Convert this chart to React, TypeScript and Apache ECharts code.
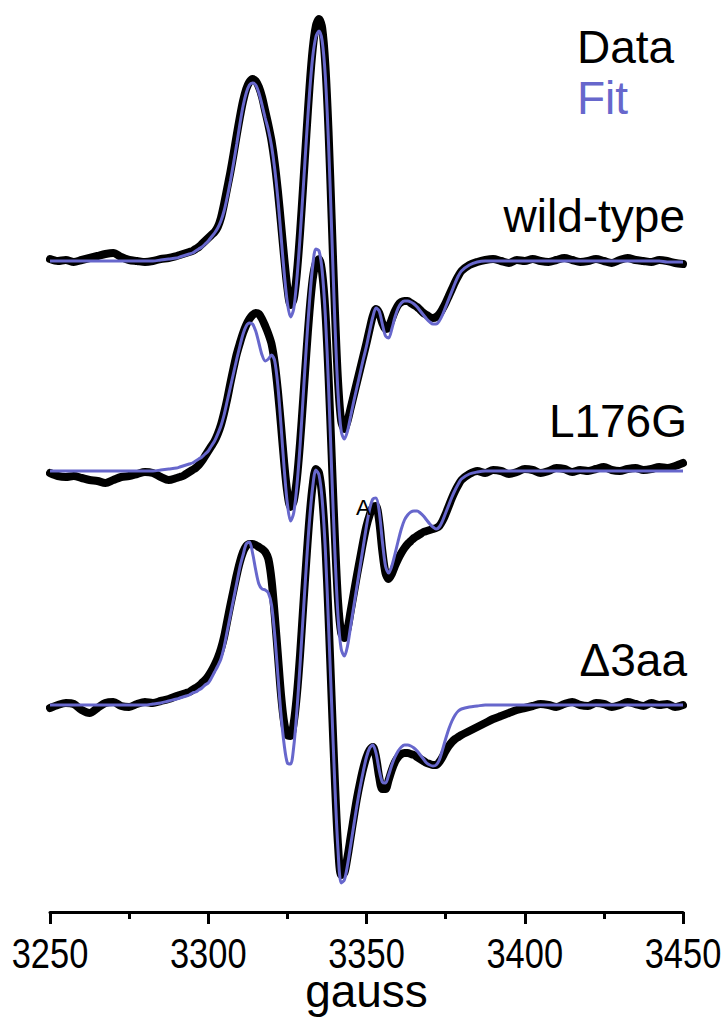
import React, { useEffect, useRef } from "react";
import * as echarts from "echarts";

// ---- axis ----
const AXIS_MIN = 3250;
const AXIS_MAX = 3450;
const TICK_STEP = 50;
const TICK_LABELS = [3250, 3300, 3350, 3400, 3450];

// field grid (gauss): coarse on the baselines, 1 G across the resonance
const range = (a: number, b: number, s: number) => {
  const r: number[] = [];
  for (let v = a; v <= b + 1e-9; v += s) r.push(Math.round(v * 10) / 10);
  return r;
};
const FIELD = [...range(3250, 3290, 2.5), ...range(3291, 3380, 1), ...range(3382.5, 3450, 2.5)];

// ---- spectra (amplitude, arbitrary units) ----
// wild-type
const WT_DATA = [
  2, 0, 1, -1, 1, 3, 5, 7, 8, 4, 1, 0, -1, 0, 2, 3, 5,
  6, 7, 8, 9, 10, 12, 14, 17, 20, 23,
  26, 29, 34, 43, 57, 73, 89, 107, 126, 144,
  160, 172, 179, 182, 180, 174, 164, 150, 136, 120,
  98, 70, 37, 3, -27, -44, -38, -12, 28, 76,
  126, 174, 212, 235, 242, 233, 196, 130, 42, -48,
  -120, -160, -168, -160, -147, -134, -121, -108, -95, -82,
  -68, -55, -48, -52, -62, -68, -66, -58, -50, -44,
  -41, -40, -40, -42, -44, -46, -49, -52, -54, -56,
  -57, -56, -53, -48, -42, -35, -28, -21, -15, -10,
  -4, -1, 1, 2, 0, -2, 1, 0, 2, 0, -1, 1, 3, 1, -1, 0, 2, 0, -2, 1, 3, 1, 0, -1, 1, 0, -2, -3,
];
const WT_FIT = [
  0, 0, 0, 0, 0, 0, 0, 0, 0, 0, 0, 0, 0, 0, 1, 2, 3,
  4, 5, 6, 7, 8, 10, 12, 14, 17, 20,
  24, 28, 33, 40, 50, 64, 80, 98, 117, 137,
  155, 168, 176, 178, 176, 168, 156, 143, 131, 115,
  92, 62, 25, -12, -42, -56, -48, -18, 24, 72,
  122, 168, 204, 224, 230, 220, 184, 118, 30, -60,
  -132, -170, -178, -170, -155, -140, -126, -112, -98, -85,
  -70, -56, -47, -50, -63, -75, -77, -68, -56, -47,
  -42, -40, -40, -41, -43, -46, -50, -54, -58, -61,
  -63, -63, -60, -54, -46, -38, -30, -22, -15, -10,
  -4, -1, 0, 0, 0, 0, 0, 0, 0, 0, 0, 0, 0, 0, 0, 0, 0, 0, 0, 0, 0, 0, 0, 0, 0, -1, -1, -1,
];
// L176G
const L176G_DATA = [
  -2, -5, -6, -5, -7, -9, -10, -12, -9, -6, -5, -3, -1, -2, -6, -9, -7,
  -6, -5, -3, -1, 1, 3, 6, 10, 15, 20,
  25, 30, 37, 46, 58, 72, 88, 103, 117, 128,
  138, 146, 152, 156, 158, 157, 152, 145, 137, 127,
  108, 80, 45, 8, -22, -36, -30, -8, 28, 72,
  118, 160, 192, 208, 212, 198, 160, 95, 15, -65,
  -130, -162, -167, -158, -140, -122, -104, -87, -70, -55,
  -44, -36, -35, -50, -80, -102, -108, -103, -95, -88,
  -82, -77, -73, -70, -67, -65, -63, -61, -60, -59,
  -58, -57, -55, -50, -43, -35, -27, -20, -14, -9,
  -3, 0, -2, 1, 0, -3, -1, 2, 1, -2, 0, 3, 2, -1, 1, 0, 2, 4, 1, 0, 2, 3, 1, 2, 4, 3, 5, 8,
];
const L176G_FIT = [
  0, 0, 0, 0, 0, 0, 0, 0, 0, 0, 0, 0, 0, 0, 1, 2, 3,
  4, 5, 6, 7, 8, 10, 12, 14, 17, 20,
  25, 30, 37, 45, 56, 70, 84, 98, 112, 125,
  137, 145, 148, 147, 140, 128, 116, 110, 112, 116,
  110, 85, 45, 2, -33, -50, -42, -15, 25, 75,
  125, 170, 205, 222, 220, 200, 155, 85, 0, -80,
  -145, -178, -185, -175, -155, -135, -115, -95, -75, -55,
  -38, -28, -27, -40, -70, -95, -102, -95, -83, -70,
  -58, -49, -44, -41, -40, -40, -42, -45, -49, -53,
  -56, -58, -56, -50, -42, -34, -26, -19, -13, -8,
  -3, -1, 0, 0, 0, 0, 0, 0, 0, 0, 0, 0, 0, 0, 0, 0, 0, 0, 0, 0, 0, 0, 0, 0, 0, 0, 0, 0,
];
// Δ3aa
const D3AA_DATA = [
  -3, 0, 2, 1, -5, -8, -3, 2, 3, -1, -2, 1, 3, 2, 4, 6, 9,
  10, 11, 12, 13, 15, 17, 19, 22, 25, 29,
  34, 40, 47, 56, 68, 84, 100, 115, 130, 143,
  153, 159, 161, 161, 160, 158, 156, 153, 146, 125,
  90, 50, 10, -18, -30, -31, -18, 10, 50, 98,
  145, 188, 220, 236, 232, 208, 160, 88, 5, -75,
  -140, -170, -168, -152, -132, -112, -93, -77, -63, -52,
  -45, -42, -52, -72, -84, -84, -75, -65, -57, -52,
  -49, -48, -48, -49, -50, -52, -54, -56, -58, -59,
  -60, -60, -57, -52, -46, -41, -37, -34, -32, -30,
  -26, -22, -18, -14, -11, -8, -5, -3, -1, 1, 0, -2, 1, 3, 0, -1, 2, 1, -2, 0, 3, 1, -1, 2, 0, 1, -2, 0,
];
const D3AA_FIT = [
  0, 0, 0, 0, 0, 0, 0, 0, 0, 0, 0, 0, 0, 1, 2, 4, 6,
  7, 8, 9, 10, 12, 13, 15, 17, 20, 22,
  27, 33, 39, 46, 58, 74, 90, 106, 122, 138,
  150, 161, 163, 152, 135, 121, 116, 115, 112, 100,
  70, 30, -10, -40, -58, -59, -42, -6, 40, 90,
  140, 185, 218, 235, 230, 205, 155, 80, 0, -80,
  -145, -178, -175, -160, -140, -120, -100, -82, -66, -52,
  -43, -40, -48, -65, -77, -78, -70, -60, -52, -46,
  -42, -40, -40, -41, -43, -46, -50, -54, -58, -60,
  -61, -60, -55, -45, -34, -24, -16, -10, -6, -4,
  -2, -1, 0, 0, 0, 0, 0, 0, 0, 0, 0, 0, 0, 0, 0, 0, 0, 0, 0, 0, 0, 0, 0, 0, 0, 0, 0, 0,
];

const SAMPLE_LABELS = ["wild-type", "L176G", "\u03943aa"];
const SAMPLE_OFFSETS = [651, 441, 207];
const LEGEND_LABELS = ["Data", "Fit"];

const DATA_COLOR = "#000000";
const FIT_COLOR = "#6767cc";
const FONT = "'Liberation Sans', Arial, Helvetica, sans-serif";

const toPairs = (vals: number[], off: number) => FIELD.map((g, i) => [g, off + vals[i]]);

export default function App() {
  const ref = useRef<HTMLDivElement>(null);
  useEffect(() => {
    if (!ref.current) return;
    const chart = echarts.init(ref.current, undefined, { renderer: "svg" });
    const datas = [WT_DATA, L176G_DATA, D3AA_DATA];
    const fits = [WT_FIT, L176G_FIT, D3AA_FIT];
    const series: any[] = [];
    datas.forEach((d, i) =>
      series.push({
        name: SAMPLE_LABELS[i] + " data",
        type: "line",
        data: toPairs(d, SAMPLE_OFFSETS[i]),
        showSymbol: false,
        smooth: 0.3,
        lineStyle: { color: DATA_COLOR, width: 8, cap: "round", join: "round" },
        z: 2,
      })
    );
    fits.forEach((d, i) =>
      series.push({
        name: SAMPLE_LABELS[i] + " fit",
        type: "line",
        data: toPairs(d, SAMPLE_OFFSETS[i]),
        showSymbol: false,
        smooth: 0.3,
        lineStyle: { color: FIT_COLOR, width: 3 },
        z: 3,
      })
    );
    chart.setOption({
      animation: false,
      grid: {
        left: 50,
        right: 42,
        top: 0,
        bottom: 114,
        containLabel: false,
        outerBoundsMode: "none",
      },
      xAxis: {
        type: "value",
        min: AXIS_MIN,
        max: AXIS_MAX,
        interval: TICK_STEP,
        name: "gauss",
        nameLocation: "middle",
        nameGap: 56,
        nameTextStyle: { fontSize: 46, fontFamily: FONT, color: "#000" },
        axisLine: { onZero: false, lineStyle: { color: "#000", width: 3 } },
        axisTick: { length: 12, lineStyle: { color: "#000", width: 3 } },
        minorTick: { show: true, splitNumber: 2, length: 7, lineStyle: { color: "#000", width: 3 } },
        splitLine: { show: false },
        minorSplitLine: { show: false },
        axisLabel: { show: false },
      },
      yAxis: { type: "value", min: 0, max: 912, show: false },
      series,
    });

    // tick labels (condensed look), placed through the axis scale
    const axisY = chart.convertToPixel({ yAxisIndex: 0 }, 0) as number;
    const tickTexts = TICK_LABELS.map((v) => ({
      type: "text",
      x: chart.convertToPixel({ xAxisIndex: 0 }, v) as number,
      y: axisY + 41,
      scaleX: 0.82,
      z: 100,
      style: {
        text: String(v),
        font: `42px ${FONT}`,
        fill: "#000",
        align: "center",
        verticalAlign: "middle",
      },
    }));
    const labelPos = [
      { x: 685, y: 216 },
      { x: 687, y: 421 },
      { x: 687, y: 660 },
    ];
    const graphic: any[] = [
      ...tickTexts,
      {
        type: "text",
        left: 577,
        top: 24,
        z: 100,
        style: { text: LEGEND_LABELS[0], font: `46px ${FONT}`, fill: DATA_COLOR },
      },
      {
        type: "text",
        left: 577,
        top: 75,
        z: 100,
        style: { text: LEGEND_LABELS[1], font: `46px ${FONT}`, fill: FIT_COLOR },
      },
      ...SAMPLE_LABELS.map((t, i) => ({
        type: "text",
        x: labelPos[i].x,
        y: labelPos[i].y,
        z: 100,
        style: {
          text: t,
          font: `46px ${FONT}`,
          fill: "#000",
          align: "right",
          verticalAlign: "middle",
        },
      })),
      {
        type: "text",
        left: 356,
        top: 496,
        z: 100,
        style: { text: "A", font: `22px ${FONT}`, fill: "#000" },
      },
    ];
    chart.setOption({ graphic });
    return () => chart.dispose();
  }, []);
  return (
    <div
      ref={ref}
      style={{ position: "absolute", left: 0, top: 0, width: 725, height: 1026, background: "#fff" }}
    />
  );
}
